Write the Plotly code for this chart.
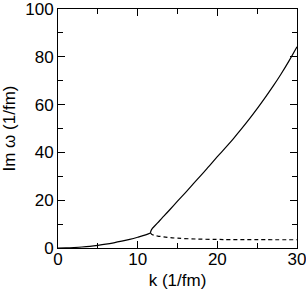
import plotly.graph_objects as go

k_low = [0, 1, 2, 3, 4, 5, 6, 7, 8, 9, 10, 11, 11.6]
im_low = [0, 0.05, 0.2, 0.42, 0.72, 1.12, 1.6, 2.18, 2.85, 3.6, 4.5, 5.5, 6.3]

k_up = [11.6, 11.7, 11.85, 12.1, 12.5, 13, 14, 15, 16, 17, 18, 19, 20, 21, 22, 23, 24, 25, 26, 27, 28, 29, 30]
im_up = [6.3, 7.4, 8.2, 9.1, 10.5, 12.3, 15.9, 19.6, 23.2, 26.9, 30.6, 34.4, 38.2, 41.9, 45.7, 49.7, 53.9, 58.3, 62.9, 67.7, 72.8, 78.3, 84.2]

k_dash = [11.6, 11.75, 12, 12.5, 13.2, 14, 15, 17.4, 20, 21.6, 25, 30]
im_dash = [6.3, 5.8, 5.4, 5.0, 4.7, 4.35, 4.1, 3.75, 3.6, 3.5, 3.47, 3.45]

font = "Liberation Sans, Arial, sans-serif"

fig = go.Figure()
fig.add_trace(go.Scatter(x=k_low, y=im_low, mode="lines", line=dict(color="black", width=1.2, shape="spline"), showlegend=False))
fig.add_trace(go.Scatter(x=k_up, y=im_up, mode="lines", line=dict(color="black", width=1.2, shape="spline"), showlegend=False))
fig.add_trace(go.Scatter(x=k_dash, y=im_dash, mode="lines", line=dict(color="black", width=1.2, dash="4px,3px", shape="spline"), showlegend=False))

axis_common = dict(
    showline=True, linecolor="black", linewidth=1, mirror="ticks",
    ticks="inside", ticklen=7, tickwidth=1, tickcolor="black",
    showgrid=False, zeroline=False, automargin=False,
    ticklabeloverflow="allow",
    tickfont=dict(family=font, size=17, color="black"),
)

fig.update_xaxes(range=[0, 30], tick0=0, dtick=10,
                 minor=dict(dtick=5, ticks="inside", ticklen=5, tickcolor="black", showgrid=False),
                 title=dict(text="k (1/fm)", font=dict(family=font, size=17, color="black"), standoff=11),
                 ticklabelstandoff=-4,
                 **axis_common)
fig.update_yaxes(range=[0, 100], tick0=0, dtick=20,
                 minor=dict(dtick=10, ticks="inside", ticklen=5, tickcolor="black", showgrid=False),
                 title=dict(text="Im ω (1/fm)", font=dict(family=font, size=17, color="black"), standoff=6),
                 **axis_common)

fig.update_layout(width=306, height=290, margin=dict(l=58, r=9, t=9, b=42),
                  plot_bgcolor="white", paper_bgcolor="white")
fig.write_html("out.html", config={"displayModeBar": False},
               post_script="document.body.style.margin='0';document.body.style.overflow='hidden';")
